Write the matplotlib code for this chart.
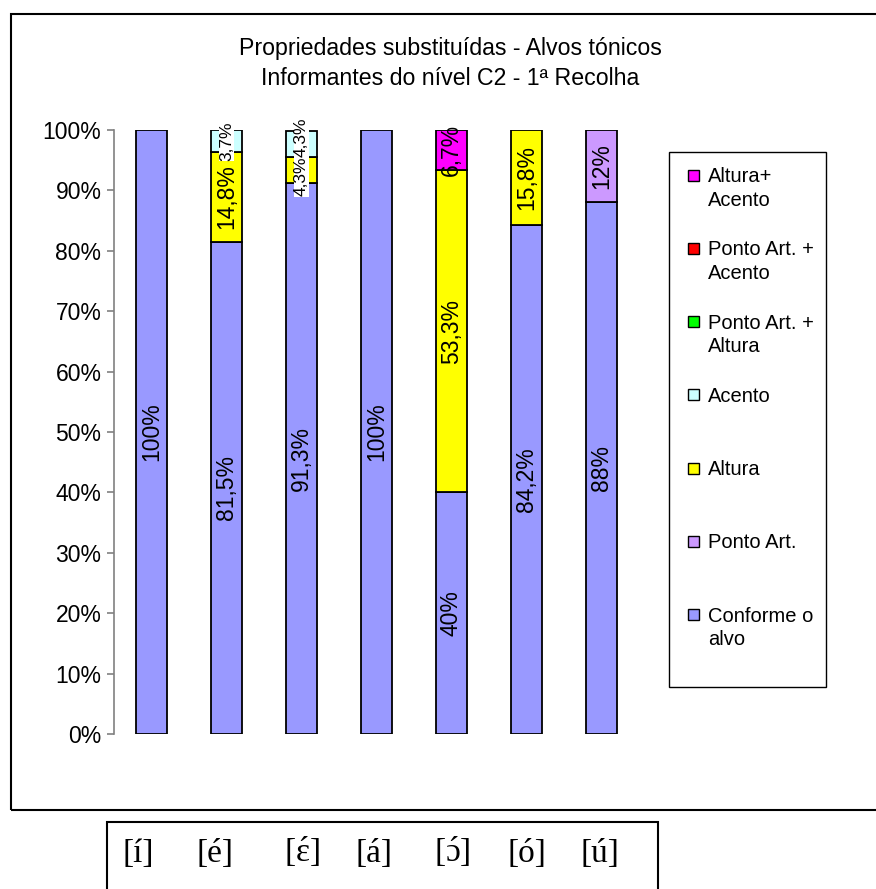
import numpy as np
import matplotlib.pyplot as plt
from matplotlib.patches import Rectangle

plt.rcParams['font.family'] = ['Liberation Sans', 'DejaVu Sans']
plt.rcParams['mathtext.fontset'] = 'custom'
plt.rcParams['mathtext.rm'] = 'Liberation Serif'

# vowels (targets) and substitution categories, bottom to top
vowels = ['[í]', '[é]', r'[$\acute{\mathrm{ɛ}}$]', '[á]', r'[$\acute{\mathrm{ɔ}}$]', '[ó]', '[ú]']
series = ['Conforme o alvo', 'Ponto Art.', 'Altura', 'Acento',
          'Ponto Art. + Altura', 'Ponto Art. + Acento', 'Altura+ Acento']
legend_text = ['Conforme o\nalvo', 'Ponto Art.', 'Altura', 'Acento',
               'Ponto Art. +\nAltura', 'Ponto Art. +\nAcento', 'Altura+\nAcento']
colors = ['#9999FF', '#CC99FF', '#FFFF00', '#CCFFFF', '#00FF00', '#FF0000', '#FF00FF']

conforme = [100, 81.5, 91.3, 100, 40, 84.2, 88]
ponto_art = [0, 0, 0, 0, 0, 0, 12]
altura = [0, 14.8, 4.3, 0, 53.3, 15.8, 0]
acento = [0, 3.7, 4.3, 0, 0, 0, 0]
ponto_altura = [0, 0, 0, 0, 0, 0, 0]
ponto_acento = [0, 0, 0, 0, 0, 0, 0]
altura_acento = [0, 0, 0, 0, 6.7, 0, 0]
data = np.array([conforme, ponto_art, altura, acento,
                 ponto_altura, ponto_acento, altura_acento], dtype=float)

W, H = 876, 889
fig = plt.figure(figsize=(W / 100, H / 100), dpi=100)

# outer chart frame
fig.patches.append(Rectangle((11 / W, 1 - 810 / H), 0.99, (810 - 14) / H,
                             transform=fig.transFigure, fill=False,
                             edgecolor='black', linewidth=1.5))

ax = fig.add_axes([114 / W, 1 - 734 / H, (639 - 114) / W, (734 - 130) / H])
x = np.arange(len(vowels))
bottom = np.zeros(len(vowels))
small = data < 5
for s, (vals, col) in enumerate(zip(data, colors)):
    m = vals > 0
    ax.bar(x[m], vals[m], width=0.41, bottom=bottom[m], color=col,
           edgecolor='black', linewidth=1.3, zorder=2)
    for i in x[m]:
        lab = f'{vals[i]:g}'.replace('.', ',') + '%'
        if vals[i] < 5:
            # thin segments: smaller label on white, nudged apart from a thin neighbour
            dy = 0
            if s > 0 and data[s - 1, i] > 0 and small[s - 1, i]:
                dy = 6
            elif s < len(data) - 1 and data[s + 1, i] > 0 and small[s + 1, i]:
                dy = -7
            ax.annotate(lab, (i, bottom[i] + vals[i] / 2), xytext=(0, dy),
                        textcoords='offset pixels', rotation=90, ha='center',
                        va='center', fontsize=12.5, zorder=3,
                        bbox=dict(facecolor='white', edgecolor='none', pad=0.3))
        else:
            ax.text(i, bottom[i] + vals[i] / 2, lab, rotation=90, ha='center',
                    va='center', fontsize=16.5, zorder=3)
    bottom += vals

ax.set_xlim(-0.5, len(vowels) - 0.5)
ax.set_ylim(0, 100)
ax.set_yticks(np.arange(0, 101, 10))
ax.set_yticklabels([f'{v}%' for v in range(0, 101, 10)], fontsize=16.5)
ax.set_xticks([])
for s in ['top', 'right', 'bottom']:
    ax.spines[s].set_visible(False)
ax.spines['left'].set_color('#808080')
ax.spines['left'].set_linewidth(1.2)
ax.tick_params(axis='y', color='#808080', length=5, width=1.2, pad=4)
ax.patch.set_alpha(0)

fig.text(450 / W, 1 - 63.5 / H,
         'Propriedades substituídas - Alvos tónicos\nInformantes do nível C2 - 1ª Recolha',
         ha='center', va='center', fontsize=16.7, linespacing=1.4)

# legend box, entries listed top to bottom
fig.patches.append(Rectangle((669 / W, 1 - 687 / H), (826 - 669) / W, (687 - 152) / H,
                             transform=fig.transFigure, fill=False,
                             edgecolor='black', linewidth=1.0))
for k, idx in enumerate(range(len(series) - 1, -1, -1)):
    yc = 175 + k * 73.3
    fig.patches.append(Rectangle((688 / W, 1 - (yc + 5.5) / H), 11 / W, 11 / H,
                                 transform=fig.transFigure, facecolor=colors[idx],
                                 edgecolor='black', linewidth=1.0))
    fig.text(708 / W, 1 - (yc - 8) / H, legend_text[idx], ha='left', va='top',
             fontsize=14.5, linespacing=1.3)

# box with the vowel labels under the chart
fig.patches.append(Rectangle((107 / W, -0.02), (658 - 107) / W, 0.02 + 1 - 822 / H,
                             transform=fig.transFigure, fill=False,
                             edgecolor='black', linewidth=1.5))
ipa_x = [138, 215, 302, 374, 452, 527, 600]
for px, v in zip(ipa_x, vowels):
    fig.text(px / W, 1 - 862 / H, v, ha='center', va='baseline', fontsize=24,
             family=['Liberation Serif', 'DejaVu Serif'])

fig.savefig('out.png', dpi=100)
